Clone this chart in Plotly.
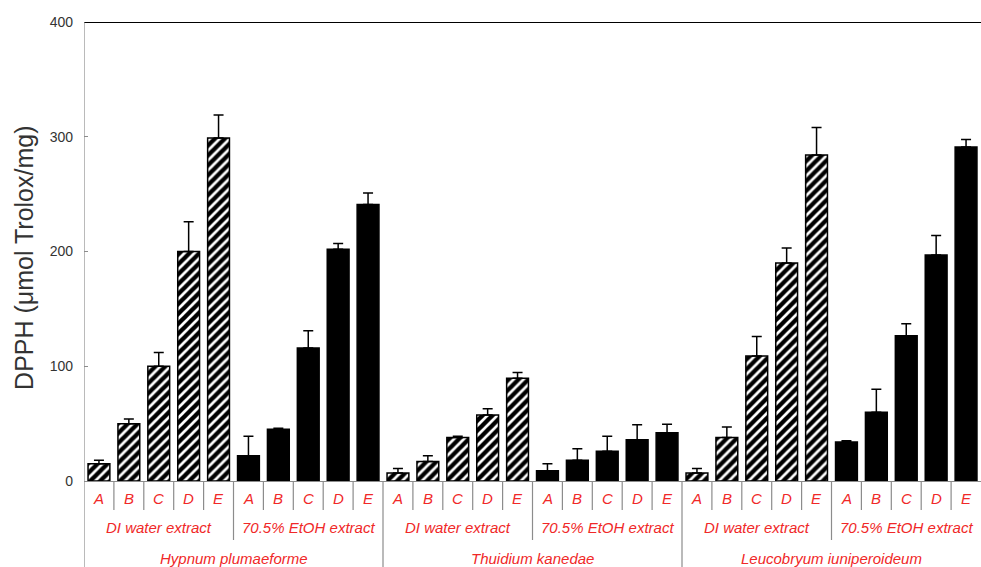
import plotly.graph_objects as go

# DPPH radical scavenging (umol Trolox/mg) per species, extract and fraction
species = ["Hypnum plumaeforme", "Thuidium kanedae", "Leucobryum iuniperoideum"]
extracts = ["DI water extract", "70.5% EtOH extract"]
fractions = ["A", "B", "C", "D", "E"]

water_mean = [15, 50, 100, 200, 299,
              7, 17, 38, 57.5, 89.5,
              7, 38, 109, 190, 284]
water_err = [3, 4, 12, 26, 20,
             4, 5, 1, 5.5, 5,
             4, 9, 17, 13, 24]

etoh_mean = [22, 45, 116, 202, 241,
             9, 18, 26, 36, 42,
             34, 60, 126.5, 197, 291]
etoh_err = [17, 1, 15, 5, 10,
            6, 10, 13, 13, 7.5,
            1, 20, 10.5, 17, 6.5]

y_ticks = [0, 100, 200, 300, 400]

n_f = len(fractions)
n_e = len(extracts)
per_species = n_f * n_e
n_total = per_species * len(species)

water_x = [s * per_species + f for s in range(len(species)) for f in range(n_f)]
etoh_x = [s * per_species + n_f + f for s in range(len(species)) for f in range(n_f)]

FONT = "Liberation Sans, Arial, sans-serif"
RED = "#f02828"
SEP = "#8c8c8c"
LABEL_SIZE = 15

fig = go.Figure()

fig.add_trace(go.Bar(
    x=water_x, y=water_mean, width=0.73,
    marker=dict(color="white",
                line=dict(color="black", width=1.5),
                pattern=dict(shape="/", fgcolor="#000000", bgcolor="white",
                             fgopacity=1, size=7, solidity=0.62)),
    error_y=dict(type="data", array=water_err, arrayminus=[0] * len(water_err),
                 symmetric=False, color="black", thickness=1.5, width=5),
    showlegend=False,
))

fig.add_trace(go.Bar(
    x=etoh_x, y=etoh_mean, width=0.73,
    marker=dict(color="black", line=dict(color="black", width=1.5)),
    error_y=dict(type="data", array=etoh_err, arrayminus=[0] * len(etoh_err),
                 symmetric=False, color="black", thickness=1.5, width=5),
    showlegend=False,
))

# plot area size in px, used to place text and rows outside the axes
plot_h = 459.0
plot_w = 897.0


def py(px_below):
    return -px_below / plot_h


shapes = []
# top frame line
shapes.append(dict(type="line", xref="paper", yref="y", x0=0, x1=1, y0=400, y1=400,
                   line=dict(color="black", width=2)))
# left axis running down through the category rows
shapes.append(dict(type="line", xref="x", yref="paper", x0=-0.5, x1=-0.5,
                   y0=py(86), y1=1, line=dict(color=SEP, width=1.2)))

for b in range(1, n_total):
    if b % per_species == 0:
        depth = 86
    elif b % n_f == 0:
        depth = 59
    else:
        depth = 29
    shapes.append(dict(type="line", xref="x", yref="paper", x0=b - 0.5, x1=b - 0.5,
                       y0=0, y1=py(depth), line=dict(color=SEP, width=1.2)))

label_font = dict(family=FONT, size=LABEL_SIZE, color=RED, style="italic")
annotations = []
for i in range(n_total):
    annotations.append(dict(x=i, y=py(17), xref="x", yref="paper", text=fractions[i % n_f],
                            showarrow=False, yanchor="middle", font=label_font))
for s in range(len(species)):
    for e in range(n_e):
        cx = s * per_species + e * n_f + (n_f - 1) / 2
        annotations.append(dict(x=cx, y=py(46), xref="x", yref="paper", text=extracts[e],
                                showarrow=False, yanchor="middle", font=label_font))
    cx = s * per_species + (per_species - 1) / 2
    annotations.append(dict(x=cx, y=py(77), xref="x", yref="paper", text=species[s],
                            showarrow=False, yanchor="middle", font=label_font))

# y-axis title
annotations.append(dict(x=-60 / plot_w, y=0.486, xref="paper", yref="paper",
                        text="DPPH (μmol Trolox/mg)", textangle=-90, showarrow=False,
                        xanchor="center", yanchor="middle",
                        font=dict(family=FONT, size=25, color="#333333")))

fig.update_layout(
    width=981, height=567,
    margin=dict(l=84, r=0, t=22, b=86),
    paper_bgcolor="white", plot_bgcolor="white",
    barmode="overlay",
    shapes=shapes,
    annotations=annotations,
    font=dict(family=FONT),
    xaxis=dict(range=[-0.5, n_total - 0.5], showticklabels=False, ticks="",
               showgrid=False, zeroline=False, showline=True, linecolor=SEP, linewidth=1.2),
    yaxis=dict(range=[0, 400], tickvals=y_ticks, ticks="inside", ticklen=4,
               tickcolor=SEP, showgrid=False, zeroline=False, showline=False,
               ticklabelstandoff=10,
               tickfont=dict(family=FONT, size=14, color="#333333")),
)

fig.write_html("out.html")
